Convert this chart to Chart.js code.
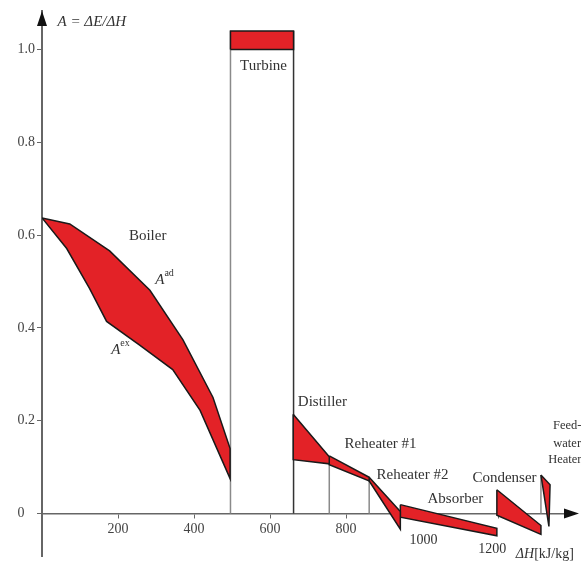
<!DOCTYPE html>
<html><head><meta charset="utf-8">
<script src="https://cdn.jsdelivr.net/npm/chart.js@4/dist/chart.umd.min.js"></script>
<style>html,body{margin:0;padding:0;background:#fff}#wrap{width:581px;height:567px;position:relative}</style>
</head><body><div id="wrap"><canvas id="c"></canvas></div>
<script>
// ---- data (x: ΔH [kJ/kg], y: A = ΔE/ΔH) ----
const xTicks = [200, 400, 600, 800, 1000, 1200];
const yTicks = [0, 0.2, 0.4, 0.6, 0.8, 1.0];

const boilerAd = [[0,0.637],[73,0.624],[178,0.566],[284,0.481],[371,0.374],[450,0.25],[495,0.14]];
const boilerEx = [[0,0.637],[65,0.571],[125,0.485],[170,0.414],[257,0.363],[344,0.31],[416,0.222],[495,0.075]];
const turbine   = [[496,1.0],[662,1.0],[662,1.04],[496,1.04]];
const distiller = [[661,0.214],[756,0.122],[756,0.107],[661,0.116]];
const reheater1 = [[756,0.124],[861,0.078],[861,0.070],[756,0.105]];
const reheater2 = [[861,0.078],[943,0.004],[943,-0.034],[861,0.070]];
const absorber  = [[943,0.019],[1197,-0.032],[1197,-0.048],[943,-0.008]];
const condenser = [[1197,0.051],[1313,-0.026],[1313,-0.045],[1197,-0.004]];
const feedwater = [[1313,0.083],[1337,0.062],[1334,-0.028],[1317,0.062]];
// component boundaries: x and top value
const dividerX   = [496, 662, 756, 861, 1313];
const dividerTop = [1.04, 1.04, 0.122, 0.075, 0.083];

// ---- build datasets ----
const RED = '#e32227', EDGE = '#1a1a1a';
function polygon(pts){
  const closed = pts.concat([pts[0]]);
  return {data: closed.map(p => ({x:p[0], y:p[1]})), fill:'shape', backgroundColor:RED,
          borderColor:EDGE, borderWidth:1.5, pointRadius:0, tension:0, borderJoinStyle:'miter'};
}
const boilerPoly = boilerAd.concat(boilerEx.slice().reverse());
const datasets = [
  polygon(boilerPoly), polygon(turbine), polygon(distiller), polygon(reheater1),
  polygon(reheater2), polygon(absorber), polygon(condenser), polygon(feedwater)
];
dividerX.forEach((x, i) => {
  datasets.push({data:[{x:x,y:0},{x:x,y:dividerTop[i]}], fill:false,
    borderColor: i === 1 ? '#333' : '#8a8a8a', borderWidth: 1.5, pointRadius:0});
});

const SERIF = "'Liberation Serif','DejaVu Serif',serif";
const texts = [
  {t:'Boiler', x:278, y:0.597, s:15},
  {t:'Turbine', x:583, y:0.965, s:15},
  {t:'Distiller', x:738, y:0.241, s:15},
  {t:'Reheater #1', x:891, y:0.150, s:15},
  {t:'Reheater #2', x:975, y:0.083, s:15},
  {t:'Absorber', x:1088, y:0.031, s:15},
  {t:'Condenser', x:1217, y:0.077, s:15},
  {t:'Feed-', x:1382, y:0.190, s:12.5},
  {t:'water', x:1382, y:0.151, s:12.5},
  {t:'Heater', x:1376, y:0.115, s:12.5}
];

const drawPlugin = {
  id:'extras',
  afterDraw(chart){
    const {ctx, chartArea:a, scales:{x, y}} = chart;
    const X = v => x.getPixelForValue(v), Y = v => y.getPixelForValue(v);
    ctx.save();
    // arrows
    ctx.fillStyle = '#111';
    const x0 = a.left, y0 = Y(0);
    ctx.beginPath(); ctx.moveTo(x0, a.top); ctx.lineTo(x0-5, a.top+15); ctx.lineTo(x0+5, a.top+15); ctx.closePath(); ctx.fill();
    ctx.beginPath(); ctx.moveTo(a.right+5, y0); ctx.lineTo(a.right-10, y0-5); ctx.lineTo(a.right-10, y0+5); ctx.closePath(); ctx.fill();
    // component labels
    ctx.fillStyle = '#333';
    ctx.textAlign = 'center'; ctx.textBaseline = 'middle';
    texts.forEach(o => { ctx.font = o.s + 'px ' + SERIF; ctx.fillText(o.t, X(o.x), Y(o.y)); });
    // A^ad / A^ex
    function sup(base, s, vx, vy){
      ctx.textAlign = 'left';
      ctx.font = 'italic 15px ' + SERIF;
      const px = X(vx), py = Y(vy);
      ctx.fillText(base, px, py);
      const w = ctx.measureText(base).width;
      ctx.font = '10px ' + SERIF;
      ctx.fillText(s, px + w, py - 6);
    }
    sup('A', 'ad', 298, 0.504);
    sup('A', 'ex', 182, 0.353);
    // lower tick labels
    ctx.textAlign = 'center';
    ctx.font = '14px ' + SERIF;
    ctx.fillText('1000', X(1004), Y(-0.058));
    ctx.fillText('1200', X(1185), Y(-0.077));
    // axis titles
    ctx.textAlign = 'left';
    ctx.font = 'italic 15px ' + SERIF;
    ctx.fillText('A = ΔE/ΔH', X(41), Y(1.059));
    ctx.font = 'italic 14px ' + SERIF;
    const hx = X(1247), hy = Y(-0.088);
    ctx.fillText('ΔH', hx, hy);
    const hw = ctx.measureText('ΔH').width;
    ctx.font = '14px ' + SERIF;
    ctx.fillText('[kJ/kg]', hx + hw, hy);
    ctx.restore();
  }
};

Chart.defaults.font.family = SERIF;
Chart.defaults.font.size = 14;
Chart.defaults.color = '#444';

new Chart(document.getElementById('c'), {
  type:'line',
  data:{datasets},
  options:{
    responsive:true, maintainAspectRatio:false, animation:false,
    layout:{padding:{left:0, top:11, right:7, bottom:7}},
    plugins:{legend:{display:false}, tooltip:{enabled:false}},
    elements:{line:{tension:0}},
    scales:{
      x:{type:'linear', min:0, max:1400, position:{y:0},
         afterFit: s => { s.height = 0; },
         afterBuildTicks: s => { s.ticks = xTicks.map(v => ({value:v})); },
         border:{color:'#666', width:1.5},
         grid:{drawOnChartArea:false, drawTicks:true, tickLength:4, color:'#666'},
         ticks:{padding:3, maxRotation:0, autoSkip:false,
                callback: v => (v >= 1000 ? '' : String(v))}},
      y:{type:'linear', min:-0.093, max:1.083, position:'left',
         afterFit: s => { s.width = 42; },
         afterBuildTicks: s => { s.ticks = yTicks.map(v => ({value:v})); },
         border:{color:'#666', width:2},
         grid:{drawOnChartArea:false, drawTicks:true, tickLength:5, color:'#666'},
         ticks:{padding:2, callback: v => (v === 0 ? '0   ' : v.toFixed(1))}}
    }
  },
  plugins:[drawPlugin]
});
</script></body></html>
